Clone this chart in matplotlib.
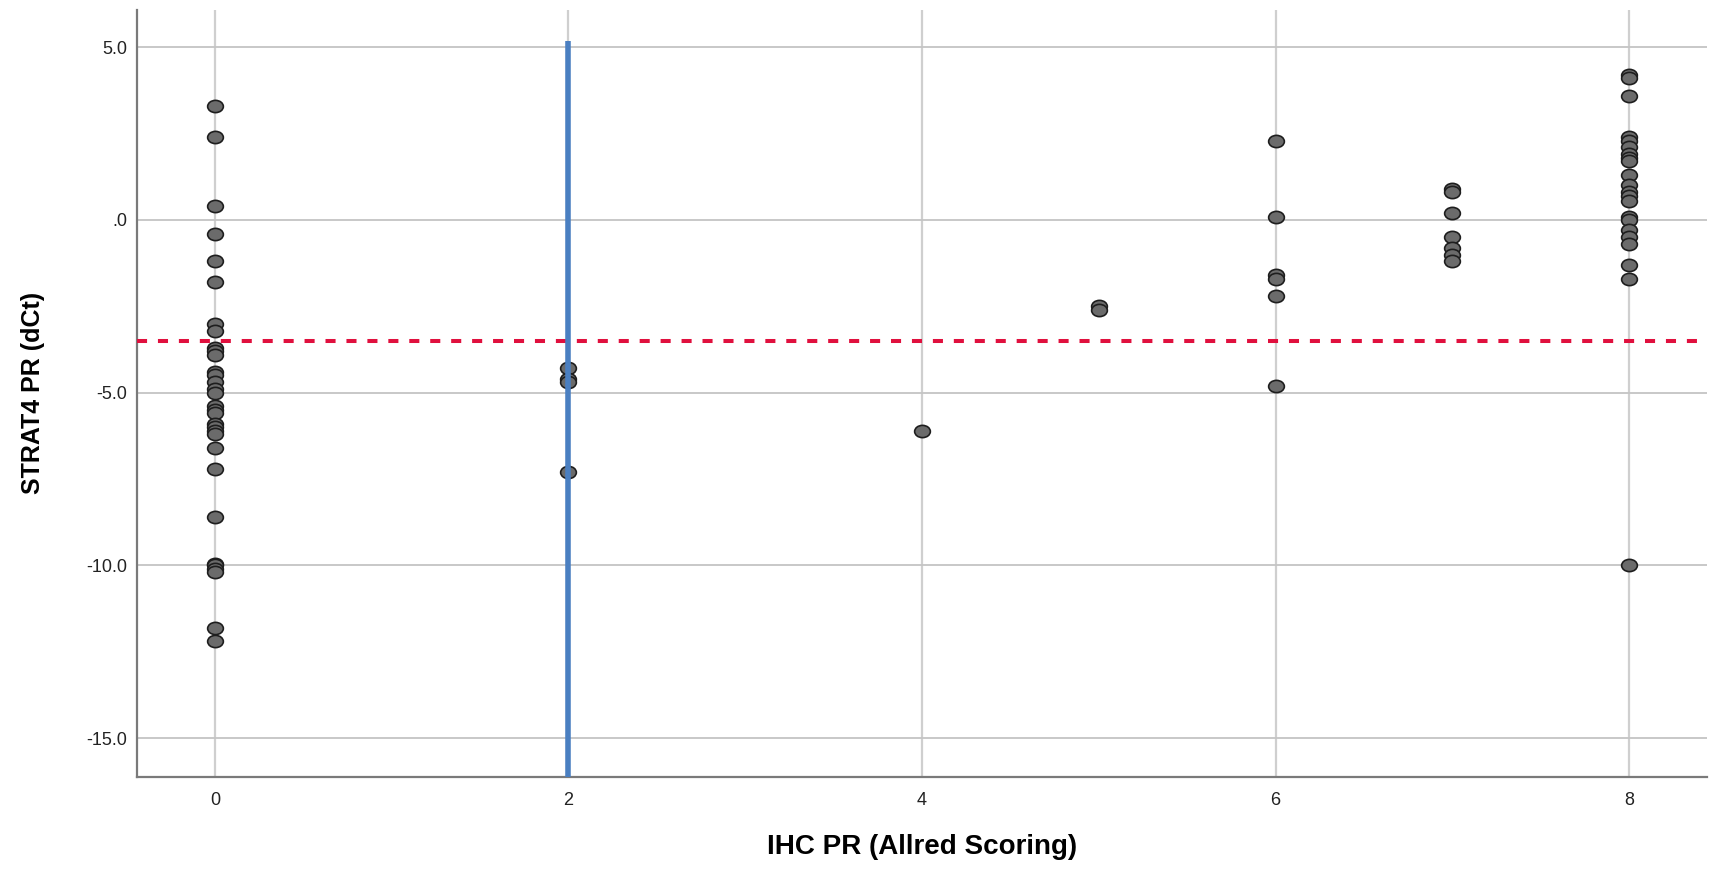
import numpy as np
import matplotlib
matplotlib.use("Agg")
import matplotlib.pyplot as plt
from matplotlib.path import Path

plt.rcParams['font.family'] = ['Liberation Sans', 'DejaVu Sans']

# IHC PR score groups and STRAT4 PR dCt values
score_0 = [3.3, 2.4, 0.4, -0.4, -1.2, -1.8, -3.0, -3.2, -3.7, -3.8, -3.9,
           -4.4, -4.5, -4.7, -4.9, -5.0, -5.4, -5.5, -5.6, -5.9, -6.0, -6.1,
           -6.2, -6.6, -7.2, -8.6, -9.95, -10.0, -10.1, -10.2, -11.8, -12.2]
score_2 = [-4.3, -4.6, -4.7, -7.3]
score_4 = [-6.1]
score_5 = [-2.5, -2.6]
score_6 = [2.3, 0.1, -1.6, -1.7, -2.2, -4.8]
score_7 = [0.9, 0.8, 0.2, -0.5, -0.8, -1.0, -1.2]
score_8 = [4.2, 4.1, 3.6, 2.4, 2.3, 2.1, 1.9, 1.8, 1.7, 1.3, 1.0, 0.8, 0.7,
           0.55, 0.1, 0.0, -0.3, -0.5, -0.7, -1.3, -1.7, -10.0]

groups = {0: score_0, 2: score_2, 4: score_4, 5: score_5,
          6: score_6, 7: score_7, 8: score_8}

cutoff_dct = -3.5        # red dashed reference line
ihc_cutoff = 2           # blue reference line
ihc_line_top = 5.17

x_ticks = [0, 2, 4, 6, 8]
y_ticks = [5.0, 0.0, -5.0, -10.0, -15.0]
y_tick_labels = ['5.0', '.0', '-5.0', '-10.0', '-15.0']

xs = np.concatenate([[k] * len(v) for k, v in groups.items()])
ys = np.concatenate([v for v in groups.values()])

fig = plt.figure(figsize=(17.11, 8.72), dpi=100)
ax = fig.add_axes([0.0801, 0.1093, 0.9176, 0.8792])

ax.set_xlim(-0.44, 8.44)
ax.set_ylim(-16.12, 6.08)

# grid
for xt in x_ticks:
    ax.axvline(xt, color='#cfcfcf', lw=1.6, zorder=0)
for yt in y_ticks:
    ax.axhline(yt, color='#c4c4c4', lw=1.3, zorder=0)

# slightly wide ellipse marker like SPSS
circ = Path.unit_circle()
ell = Path(circ.vertices * np.array([1.0, 0.78]), circ.codes)

ax.scatter(xs, ys, marker=ell, s=128, facecolor='#6b6b6b',
           edgecolor='#1e1e1e', linewidths=1.2, zorder=3)

ax.axhline(cutoff_dct, color='#e0103e', lw=2.9, linestyle=(0, (2.5, 2.7)),
           zorder=4)
ax.vlines(ihc_cutoff, -16.12, ihc_line_top, color='#4a7fc1', lw=4.0,
          zorder=5)

ax.set_xticks(x_ticks)
ax.set_yticks(y_ticks)
ax.set_yticklabels(y_tick_labels)
ax.tick_params(axis='both', length=0, labelsize=13, labelcolor='#222222')
ax.tick_params(axis='y', pad=7)
ax.tick_params(axis='x', pad=11)

for side in ['top', 'right']:
    ax.spines[side].set_visible(False)
for side in ['left', 'bottom']:
    ax.spines[side].set_color('#7a7a7a')
    ax.spines[side].set_linewidth(1.6)

ax.set_xlabel('IHC PR (Allred Scoring)', fontsize=20, fontweight='bold',
              va='center')
ax.set_ylabel('STRAT4 PR (dCt)', fontsize=18, fontweight='bold',
              va='center')
ax.xaxis.set_label_coords(0.5, -0.0915)
ax.yaxis.set_label_coords(-0.0662, 0.5)

fig.savefig('out.png', dpi=100)
